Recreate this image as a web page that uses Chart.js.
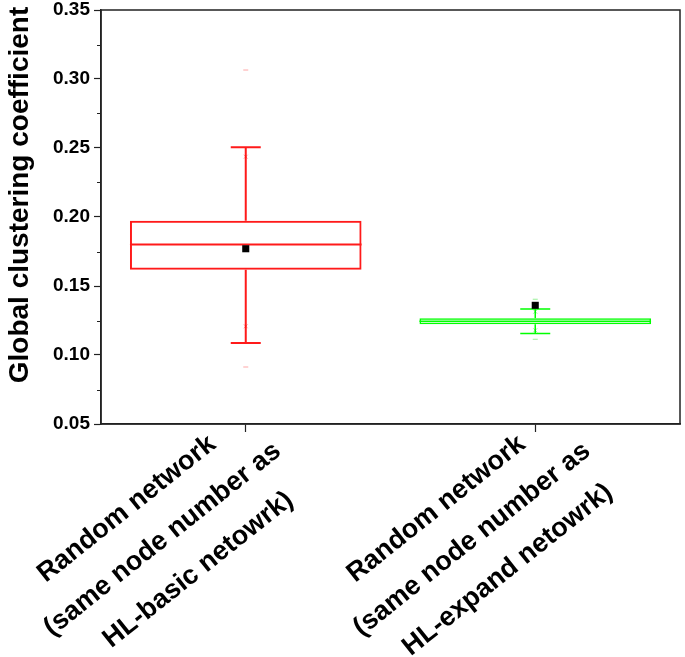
<!DOCTYPE html>
<html>
<head>
<meta charset="utf-8">
<script src="https://cdn.jsdelivr.net/npm/chart.js@4/dist/chart.umd.min.js"></script>
<style>
  html, body { margin: 0; padding: 0; background: #fff; }
  #wrap { position: relative; width: 685px; height: 657px; }
</style>
</head>
<body>
<div id="wrap"><canvas id="box-chart"></canvas></div>
<script>
// box statistics
const categories = [
  ['Random network', '(same node number as', 'HL-basic netowrk)'],
  ['Random network', '(same node number as', 'HL-expand netowrk)']
];
const q1 = [0.1617, 0.1222];
const q3 = [0.1973, 0.1266];
const median = [0.1800, 0.1245];
const whiskerLow = [0.1087, 0.1155];
const whiskerHigh = [0.2505, 0.1333];
const mean = [0.1770, 0.1360];
const p1 = [0.1208, 0.1179];
const p99 = [0.2437, 0.1314];
const minVal = [0.0913, 0.1114];
const maxVal = [0.3065, 0.1404];
const yTitle = 'Global clustering coefficient';

const boxColors = ['#ff1a1a', '#00ff00'];
const boxLine = [2, 1.5];
const faintColors = ['rgba(255,0,0,0.35)', 'rgba(0,220,0,0.4)'];
const FONT = '"Liberation Sans", Arial, sans-serif';

Chart.defaults.font.family = FONT;
Chart.defaults.color = '#000';

// whiskers, median and the pale percentile marks, drawn behind the box
const boxExtras = {
  id: 'boxExtras',
  beforeDatasetsDraw(chart) {
    const ctx = chart.ctx, x = chart.scales.x, y = chart.scales.y;
    const bars = chart.getDatasetMeta(1).data;
    categories.forEach((c, i) => {
      const cx = x.getPixelForValue(i);
      const half = bars[i].width / 2;
      const cap = 15;
      ctx.save();
      ctx.strokeStyle = boxColors[i];
      ctx.lineWidth = boxLine[i];
      ctx.beginPath();
      ctx.moveTo(cx - half, y.getPixelForValue(median[i]));
      ctx.lineTo(cx + half, y.getPixelForValue(median[i]));
      ctx.moveTo(cx, y.getPixelForValue(q3[i]));
      ctx.lineTo(cx, y.getPixelForValue(whiskerHigh[i]));
      ctx.moveTo(cx, y.getPixelForValue(q1[i]));
      ctx.lineTo(cx, y.getPixelForValue(whiskerLow[i]));
      ctx.moveTo(cx - cap, y.getPixelForValue(whiskerHigh[i]));
      ctx.lineTo(cx + cap, y.getPixelForValue(whiskerHigh[i]));
      ctx.moveTo(cx - cap, y.getPixelForValue(whiskerLow[i]));
      ctx.lineTo(cx + cap, y.getPixelForValue(whiskerLow[i]));
      ctx.stroke();

      // pale min/max dashes and 1%/99% crosses
      ctx.strokeStyle = faintColors[i];
      ctx.lineWidth = 1;
      ctx.beginPath();
      [minVal[i], maxVal[i]].forEach(v => {
        const py = y.getPixelForValue(v);
        ctx.moveTo(cx - 2.5, py); ctx.lineTo(cx + 2.5, py);
      });
      [p1[i], p99[i]].forEach(v => {
        const py = y.getPixelForValue(v);
        ctx.moveTo(cx - 2, py - 2); ctx.lineTo(cx + 2, py + 2);
        ctx.moveTo(cx + 2, py - 2); ctx.lineTo(cx - 2, py + 2);
      });
      ctx.stroke();
      ctx.restore();
    });
  },
  afterDraw(chart, args, opts) {
    const ctx = chart.ctx, x = chart.scales.x, y = chart.scales.y;
    const area = chart.chartArea;
    ctx.save();
    // frame
    ctx.strokeStyle = '#222';
    ctx.lineWidth = 1.5;
    ctx.strokeRect(area.left, area.top, area.right - area.left, area.bottom - area.top);

    // minor ticks on the y axis
    ctx.lineWidth = 1;
    ctx.beginPath();
    for (let k = 0; k < y.ticks.length - 1; k++) {
      const v = (y.ticks[k].value + y.ticks[k + 1].value) / 2;
      const py = Math.round(y.getPixelForValue(v)) + 0.5;
      ctx.moveTo(area.left - 4, py);
      ctx.lineTo(area.left, py);
    }
    ctx.stroke();

    // y title
    ctx.fillStyle = '#000';
    ctx.font = 'bold 28px ' + FONT;
    ctx.textAlign = 'center';
    ctx.textBaseline = 'alphabetic';
    ctx.save();
    ctx.translate(28, (area.top + area.bottom) / 2 - 22);
    ctx.rotate(-Math.PI / 2);
    ctx.fillText(yTitle, 0, 0);
    ctx.restore();

    // rotated multi-line category labels
    const angle = 38.5 * Math.PI / 180;
    ctx.font = 'bold 27px ' + FONT;
    categories.forEach((lines, i) => {
      ctx.save();
      ctx.translate(x.getPixelForValue(i) + opts.labelDx[i], x.top);
      ctx.rotate(-angle);
      lines.forEach((s, k) => ctx.fillText(s, -146 + k * 9, k * 46));
      ctx.restore();
    });
    ctx.restore();
  }
};

const ctx = document.getElementById('box-chart').getContext('2d');
new Chart(ctx, {
  type: 'bar',
  data: {
    labels: categories,
    datasets: [
      {
        type: 'line',
        label: 'Mean',
        data: mean,
        showLine: false,
        pointStyle: 'rect',
        pointRadius: 5,
        pointBorderWidth: 0,
        pointBackgroundColor: '#000',
        pointBorderColor: '#000',
        order: 0
      },
      {
        label: 'Box',
        data: q1.map((v, i) => [v, q3[i]]),
        backgroundColor: 'rgba(0,0,0,0)',
        borderColor: boxColors,
        borderWidth: boxLine,
        inflateAmount: 0,
        borderSkipped: false,
        barPercentage: 0.8,
        categoryPercentage: 1.0,
        order: 1
      }
    ]
  },
  options: {
    responsive: true,
    maintainAspectRatio: false,
    animation: false,
    layout: { padding: { top: 10, right: 2, left: 0, bottom: 0 } },
    plugins: {
      legend: { display: false },
      tooltip: { enabled: false },
      boxExtras: { labelDx: [0, 20] }
    },
    scales: {
      x: {
        offset: true,
        grid: { offset: false, drawOnChartArea: false, tickLength: 8, tickColor: '#222', tickWidth: 1.2 },
        border: { color: '#222', width: 1.5 },
        ticks: { display: false },
        afterFit(scale) { scale.height = 233; scale.paddingLeft = 0; scale.paddingRight = 0; }
      },
      y: {
        min: 0.05,
        max: 0.35,
        grid: { drawOnChartArea: false, tickLength: 7, tickColor: '#222', tickWidth: 1.2 },
        border: { color: '#222', width: 1.5 },
        ticks: {
          stepSize: 0.05,
          padding: 4,
          font: { size: 19, weight: 'bold' },
          callback: v => v.toFixed(2)
        },
        afterFit(scale) { scale.width = 101; scale.paddingTop = 0; scale.paddingBottom = 0; }
      }
    }
  },
  plugins: [boxExtras]
});
</script>
</body>
</html>
